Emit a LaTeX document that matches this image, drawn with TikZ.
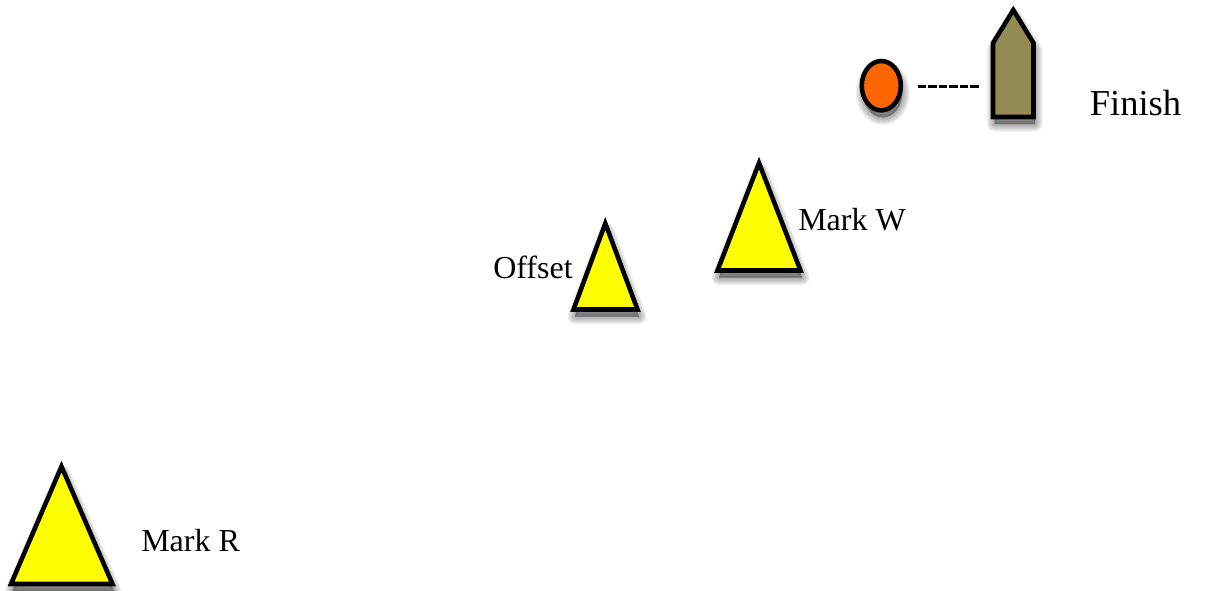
\documentclass[tikz,border=0pt]{standalone}
\usepackage{fontspec}
\setmainfont{Liberation Serif}
\definecolor{markyellow}{HTML}{FFFF00}
\definecolor{buoyorange}{HTML}{FF6600}
\definecolor{boatolive}{HTML}{948B54}
\tikzset{
  shapeline/.style={draw=black,line width=3.4pt,miter limit=10,line join=miter},
  lbl/.style={anchor=base west,inner sep=0pt,font=\fontsize{24}{28}\selectfont,text=black},
  lblbig/.style={anchor=base west,inner sep=0pt,font=\fontsize{27.4}{32}\selectfont,text=black},
  softlayer/.style={draw=black,fill=black,draw opacity=0.07,fill opacity=0.07,line join=round},
}
% soft shadow: stacked translucent copies of a path
\newcommand{\softshadow}[1]{%
  \foreach \w in {15,12,9,6,3,0.5}{%
    \path[softlayer,line width=\w*0.75pt,shift={(1.5,7)}] #1;%
  }%
}
\begin{document}
\begin{tikzpicture}[x=0.75pt,y=-0.75pt]
\useasboundingbox (0,0) rectangle (1216,590);
% shadows
\softshadow{(759,163) -- (800.5,270.5) -- (717.5,270.5) -- cycle}
\softshadow{(605.3,223.5) -- (637.5,309.5) -- (573.5,309.5) -- cycle}
\softshadow{(61.5,466.5) -- (112.5,584) -- (11,584) -- cycle}
\softshadow{(1013.3,10) -- (1033.5,43) -- (1033.5,117) -- (993,117) -- (993,43) -- cycle}
\softshadow{(881.3,85.7) ellipse [x radius=19.5,y radius=24.7]}
% marks
\draw[shapeline,fill=markyellow] (759,163) -- (800.5,270.5) -- (717.5,270.5) -- cycle;
\draw[shapeline,fill=markyellow] (605.3,223.5) -- (637.5,309.5) -- (573.5,309.5) -- cycle;
\draw[shapeline,fill=markyellow] (61.5,466.5) -- (112.5,584) -- (11,584) -- cycle;
% boat
\draw[shapeline,fill=boatolive] (1013.3,10) -- (1033.5,43) -- (1033.5,117) -- (993,117) -- (993,43) -- cycle;
% buoy
\draw[shapeline,fill=buoyorange] (881.3,85.7) ellipse [x radius=19.5,y radius=24.7];
% line between buoy and boat
\coordinate (lineL) at (917.7,86.2);
\coordinate (lineR) at (980,86.2);
\draw[line width=2.1pt,dash pattern=on 6.3pt off 1.6pt] (lineL) -- (lineR);
% labels
\node[lblbig] (finish) at (1089.5,115) {Finish};
\node[lbl] (markw) at (798,230) {Mark W};
\node[lbl] (offset) at (493,278) {Offset};
\node[lbl] (markr) at (141,551) {Mark R};
\end{tikzpicture}
\end{document}
